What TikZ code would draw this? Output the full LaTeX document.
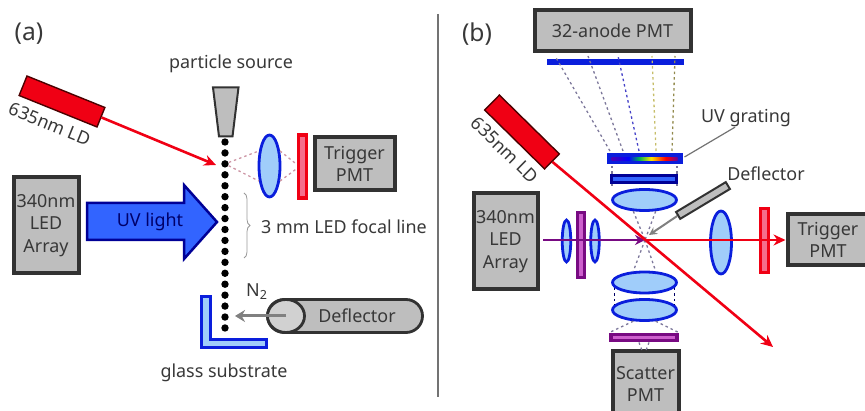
\documentclass[tikz,border=0pt]{standalone}
\usepackage{fontspec}
\setmainfont{Noto Sans}
\usetikzlibrary{shapes.geometric, shapes.misc, positioning, arrows.meta, decorations.pathreplacing}
\definecolor{LensBlue}{RGB}{160,205,250}
\definecolor{EdgeBlue}{RGB}{10,30,220}
\definecolor{ArrowBlue}{RGB}{50,100,255}
\definecolor{ArrowEdge}{RGB}{0,0,150}
\definecolor{BoxGray}{RGB}{190,190,190}
\definecolor{BoxEdge}{RGB}{50,50,50}
\definecolor{LaserRed}{RGB}{240,0,20}
\definecolor{FiltPurple}{RGB}{120,10,130}
\definecolor{FiltPink}{RGB}{205,95,205}
\definecolor{FiltRose}{RGB}{245,110,140}
\definecolor{RayPink}{RGB}{205,150,165}
\definecolor{RayGray}{RGB}{125,120,155}
\pgfdeclarehorizontalshading{uvrainbow}{100bp}{color(0bp)=(blue); color(25bp)=(blue!70!red); color(38bp)=(blue); color(46bp)=(green!70!blue); color(55bp)=(yellow!90!red); color(66bp)=(red); color(75bp)=(blue!60!red); color(100bp)=(blue)}
\def\px{0.2mm}
\begin{document}
\begin{tikzpicture}[
          x=\px, y=-\px,
          every node/.style={font=\fontsize{10.2}{12.8}\selectfont, text=black!78, inner sep=0pt, align=center},
          pmt/.style={rectangle, draw=BoxEdge, fill=BoxGray, line width=4*\px},
          ld/.style={rectangle, draw=black!70!red, fill=LaserRed, line width=1.4*\px, minimum width=84*\px, minimum height=21*\px},
          lens/.style={ellipse, draw=EdgeBlue, fill=LensBlue, line width=2.8*\px},
          filt/.style={rectangle, line width=3*\px},
          ray/.style={draw=RayGray, line width=1.3*\px, dash pattern=on 0.5mm off 0.6mm},
          beam/.style={draw=LaserRed, line width=2.6*\px, -{Stealth[length=12*\px, width=11*\px]}},
          gas/.style={draw=black!50, line width=3*\px, -{Stealth[length=10*\px, width=12*\px]}}
        ]
        \clip (0,0) rectangle (865,411);

        \node[font=\fontsize{14}{15}\selectfont] (laba) at (29,34) {(a)};
        \node (src) at (231,64) {particle source};
        \draw[draw=BoxEdge, fill=BoxGray, line width=2*\px] (213,87.5) -- (238.5,87.5) -- (232.5,136.5) -- (219,136.5) -- cycle;
        \foreach \i in {0,...,17}
          \node[circle, fill=black, minimum size=7.4*\px] (dot\i) at (225,142+10.94*\i) {};

        \node[ld, rotate=-22] (lda) at (62,101.5) {};
        \node[rotate=-22] (ldatxt) at (50,124) {635nm LD};
        \coordinate (hit) at (216,165);
        \draw[beam] (lda.east) -- (hit);

        \node[lens, minimum width=21*\px, minimum height=62*\px] (lensa) at (269.5,166) {};
        \node[filt, draw=LaserRed, fill=FiltRose, minimum width=8*\px, minimum height=63*\px, line width=3.4*\px] (filta) at (302.5,166.5) {};
        \node[pmt, minimum width=80*\px, minimum height=53*\px] (trga) at (354.5,164) {Trigger\\PMT};
        \draw[ray, draw=RayPink] (dot2) -- (lensa.125);
        \draw[ray, draw=RayPink] (dot2) -- (lensa.235);
        \draw[ray, draw=RayPink] (lensa.55) -- (filta.160);
        \draw[ray, draw=RayPink] (lensa.-55) -- (filta.200);

        \node[pmt, minimum width=65*\px, minimum height=96*\px] (leda) at (46,225.5) {340nm\\LED\\Array};
        \draw[draw=ArrowEdge, fill=ArrowBlue, line width=2.5*\px]
              (87,203) -- (184,203) -- (184,185) -- (217,222) -- (184,259) -- (184,240) -- (87,240) -- cycle;
        \node[text=ArrowEdge!70!black] (uv) at (150,222) {UV light};

        \coordinate (brtop) at (244,193);
        \coordinate (brbot) at (244,258);
        \draw[draw=black!40, line width=0.8*\px, decorate, decoration={brace, amplitude=1.2mm}] (brtop) -- (brbot);
        \node (focal) at (344,227) {3 mm LED focal line};

        \draw[draw=EdgeBlue, fill=LensBlue, line width=3*\px]
              (201,297) -- (210,297) -- (210,339.5) -- (266,339.5) -- (266,348) -- (201,348) -- cycle;
        \node (glass) at (224,373) {glass substrate};

        \node[rounded rectangle, draw=BoxEdge, fill=BoxGray, line width=2.8*\px, minimum width=155*\px, minimum height=33*\px]
              (defa) at (345,316) {};
        \node[ellipse, draw=BoxEdge, fill=black!18, line width=2.8*\px, minimum width=37*\px, minimum height=33*\px] (cap) at (286,316) {};
        \node (deftxt) at (357,316) {Deflector};
        \coordinate (gastip) at (235,316);
        \draw[gas] (cap.center) -- (gastip);
        \node (n2) at (257,292) {N\textsubscript{2}};

        \coordinate (divtop) at (438,14);
        \coordinate (divbot) at (438,397);
        \draw[draw=black!55, line width=1.8*\px] (divtop) -- (divbot);

        \node[font=\fontsize{14}{15}\selectfont] (labb) at (477,34) {(b)};
        \node[pmt, minimum width=156*\px, minimum height=41*\px] (anode) at (612.5,31) {32-anode PMT};
        \node[rectangle, fill=EdgeBlue, minimum width=137*\px, minimum height=6.5*\px] (bar) at (615.5,62) {};

        \node[filt, draw=EdgeBlue, fill=EdgeBlue, minimum width=73*\px, minimum height=8*\px] (grat) at (644.5,159) {};
        \node[shading=uvrainbow, minimum width=66*\px, minimum height=2.5*\px] (gratstrip) at (644.5,159) {};
        \node[filt, draw=ArrowEdge, fill=ArrowBlue, minimum width=65*\px, minimum height=7*\px, line width=3.5*\px] (filtb) at (644,179) {};
        \node[lens, minimum width=64*\px, minimum height=21*\px] (lensup) at (644.5,200) {};

        \foreach \xa/\xb/\c in {610/555/RayGray, 623/588/RayGray, 639/618/blue!45!RayGray, 656/652/yellow!50!RayGray, 672/675/olive!50!RayGray}
          \draw[ray, draw=\c] (\xa,151) -- (\xb,56);

        \node (gratlab) at (746,118) {UV grating};
        \draw[draw=black!55, line width=1.2*\px] (grat.east) ++(2,-2) -- (gratlab.220);

        \node[rectangle, draw=BoxEdge, fill=BoxGray, line width=2*\px, rotate=31, minimum width=58*\px, minimum height=8*\px] (defb) at (703,200.5) {};
        \node (deflab) at (766,174) {Deflector};

        \coordinate (focus) at (645,240);
        \draw[ray] (lensup.-135) -- (focus);
        \draw[ray] (lensup.-45) -- (focus);
        \draw[ray] (612,184) -- (612,189);
        \draw[ray] (677,184) -- (677,189);
        \draw[ray] (612,166) -- (612,174);
        \draw[ray] (677,166) -- (677,174);

        \node[lens, minimum width=64*\px, minimum height=21*\px] (lensl) at (644.5,282.5) {};
        \node[lens, minimum width=64*\px, minimum height=21*\px] (lensm) at (644.5,310) {};
        \node[filt, draw=FiltPurple, fill=FiltPink, minimum width=66*\px, minimum height=6.5*\px, line width=3.4*\px] (filtc) at (644,337.5) {};
        \node[pmt, minimum width=66*\px, minimum height=65*\px] (scat) at (645.5,384) {Scatter\\PMT};
        \draw[ray] (focus) -- (lensl.135);
        \draw[ray] (focus) -- (lensl.45);
        \draw[ray, draw=black!60!blue] (lensl.190) -- (lensm.170);
        \draw[ray, draw=black!60!blue] (lensl.-10) -- (lensm.10);
        \draw[ray] (lensm.-135) -- (filtc.north west);
        \draw[ray] (lensm.-45) -- (filtc.north east);
        \draw[ray] (filtc.south) ++(-5,0) -- ++(3,8);
        \draw[ray] (filtc.south) ++(5,0) -- ++(-3,8);

        \node[pmt, minimum width=64*\px, minimum height=96*\px] (ledb) at (505.5,241.5) {340nm\\LED\\Array};
        \node[lens, minimum width=8.5*\px, minimum height=42*\px] (lsa) at (566.5,241) {};
        \node[lens, minimum width=8.5*\px, minimum height=42*\px] (lsb) at (595,241) {};
        \node[filt, draw=FiltPurple, fill=FiltPink, minimum width=7.5*\px, minimum height=65*\px, line width=3.4*\px] (filtd) at (581,245) {};
        \node[lens, minimum width=21*\px, minimum height=63*\px] (lensr) at (721,242.5) {};
        \node[filt, draw=LaserRed, fill=FiltRose, minimum width=7.5*\px, minimum height=64*\px, line width=3.4*\px] (filte) at (764.5,240.5) {};
        \node[pmt, minimum width=81*\px, minimum height=51*\px] (trgb) at (828,240) {Trigger\\PMT};

        \coordinate (uvstart) at (543,240);
        \draw[draw=FiltPurple, line width=2.6*\px, -{Stealth[length=10*\px, width=10*\px]}] (uvstart) -- (focus);
        \draw[beam] (focus) -- (trgb.west);

        \node[ld, rotate=-44.5] (ldb) at (522,132) {};
        \node[rotate=-44.5] (ldbtxt) at (505,150) {635nm LD};
        \coordinate (beamend) at (773,347);
        \draw[beam] (ldb.east) -- (beamend);
        \coordinate (gastipb) at (649,235);
        \draw[draw=black!50, line width=2*\px, -{Stealth[length=8*\px, width=8*\px]}] (defb.west) -- (gastipb);
      \end{tikzpicture}
\end{document}
